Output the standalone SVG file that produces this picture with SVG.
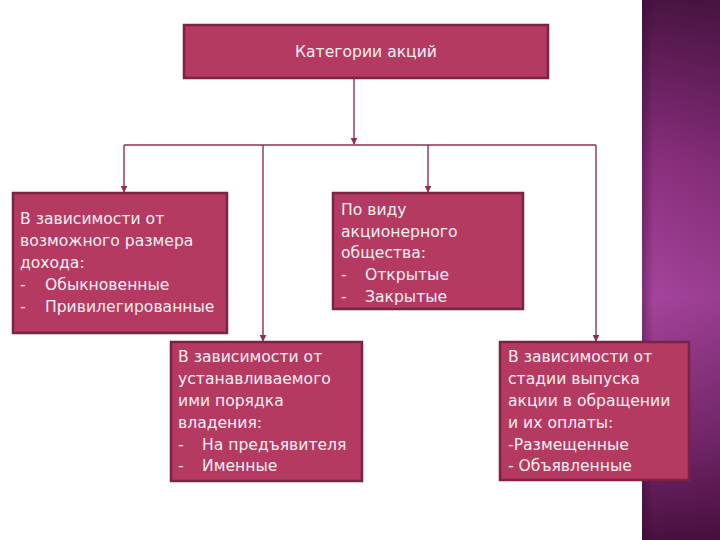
<svg xmlns="http://www.w3.org/2000/svg" width="720" height="540" viewBox="0 0 720 540">
<defs>
<linearGradient id="band" x1="0" y1="0" x2="0" y2="1">
<stop offset="0" stop-color="#4a1442"/>
<stop offset="0.3" stop-color="#8a2f7e"/>
<stop offset="0.55" stop-color="#a5449c"/>
<stop offset="0.8" stop-color="#7a2a70"/>
<stop offset="1" stop-color="#4a1040"/>
</linearGradient>
<linearGradient id="bandh" x1="0" y1="0" x2="1" y2="0">
<stop offset="0" stop-color="#2a0828" stop-opacity="0.35"/>
<stop offset="0.15" stop-color="#2a0828" stop-opacity="0"/>
<stop offset="1" stop-color="#2a0828" stop-opacity="0.1"/>
</linearGradient>
<marker id="arr" viewBox="0 0 10 10" refX="9" refY="5" markerWidth="5" markerHeight="5" orient="auto">
<path d="M0,0 L10,5 L0,10 z" fill="#8b3050"/>
</marker>
<style>
.box{fill:#b43a61;stroke:#7a2342;stroke-width:2.5}
.t{font-family:"DejaVu Sans","Noto Sans",sans-serif;font-size:15.6px;fill:#f8eef2}
.c{fill:none;stroke:#8b3050;stroke-width:1.4}
</style>
</defs>
<rect width="720" height="540" fill="#ffffff"/>
<rect x="642" y="0" width="78" height="540" fill="url(#band)"/>
<rect x="642" y="0" width="78" height="540" fill="url(#bandh)"/>
<g id="connectors">
<path class="c" d="M354,79 V144" marker-end="url(#arr)"/>
<path class="c" d="M124,145 H596"/>
<path class="c" d="M124,145 V192" marker-end="url(#arr)"/>
<path class="c" d="M263,145 V341" marker-end="url(#arr)"/>
<path class="c" d="M428,145 V192" marker-end="url(#arr)"/>
<path class="c" d="M596,145 V341" marker-end="url(#arr)"/>
</g>
<g id="root">
<rect class="box" x="184" y="25" width="364" height="53"/>
<text class="t" x="366" y="57" text-anchor="middle">Категории акций</text>
</g>
<g id="income">
<rect class="box" x="13" y="193" width="214" height="140"/>
<text class="t" x="20" y="224">В зависимости от</text>
<text class="t" x="20" y="246">возможного размера</text>
<text class="t" x="20" y="268">дохода:</text>
<text class="t" x="20" y="290">-</text><text class="t" x="45" y="290">Обыкновенные</text>
<text class="t" x="20" y="312">-</text><text class="t" x="45" y="312">Привилегированные</text>
</g>
<g id="company">
<rect class="box" x="333" y="193" width="190" height="116"/>
<text class="t" x="341" y="215">По виду</text>
<text class="t" x="341" y="237">акционерного</text>
<text class="t" x="341" y="258">общества:</text>
<text class="t" x="341" y="280">-</text><text class="t" x="365" y="280">Открытые</text>
<text class="t" x="341" y="302">-</text><text class="t" x="365" y="302">Закрытые</text>
</g>
<g id="ownership">
<rect class="box" x="171" y="342" width="191" height="139"/>
<text class="t" x="178" y="362">В зависимости от</text>
<text class="t" x="178" y="384">устанавливаемого</text>
<text class="t" x="178" y="406">ими порядка</text>
<text class="t" x="178" y="428">владения:</text>
<text class="t" x="178" y="450">-</text><text class="t" x="202" y="450">На предъявителя</text>
<text class="t" x="178" y="471">-</text><text class="t" x="202" y="471">Именные</text>
</g>
<g id="stage">
<rect class="box" x="500" y="342" width="189" height="138"/>
<text class="t" x="508" y="362">В зависимости от</text>
<text class="t" x="508" y="384">стадии выпуска</text>
<text class="t" x="508" y="406">акции в обращении</text>
<text class="t" x="508" y="428">и их оплаты:</text>
<text class="t" x="508" y="450">-Размещенные</text>
<text class="t" x="508" y="471">- Объявленные</text>
</g>
</svg>
